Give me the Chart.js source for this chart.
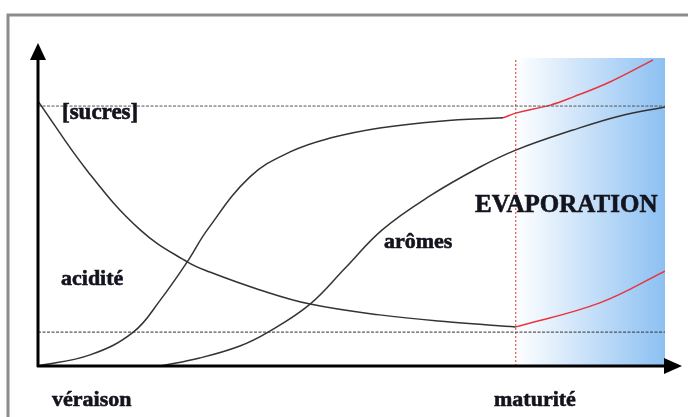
<!DOCTYPE html>
<html>
<head>
<meta charset="utf-8">
<script src="https://cdn.jsdelivr.net/npm/chart.js@4.4.1/dist/chart.umd.min.js"></script>
<style>
  body { margin: 0; background: #fff; }
  canvas { display: block; }
</style>
</head>
<body>
<canvas id="vinChart" width="688" height="417"></canvas>
<script>
// x: time from véraison (0) to end of evaporation (100), y: relative level (0..100)
const acidityX = [0, 8, 16.3, 23.8, 27.4, 35.4, 43.4, 54.5, 65.7, 76.2];
const acidityY = [86, 63, 44.2, 33.8, 30.5, 24.7, 20.1, 16.6, 14.3, 12.7];
const acidityEvapX = [76.2, 89.6, 100];
const acidityEvapY = [12.7, 20.5, 30.8];

const sugarX = [0, 8.3, 15.2, 19.5, 23.8, 27.0, 33.8, 40.2, 46.6, 54.5, 64.1, 74.2];
const sugarY = [0, 3.6, 11.0, 21.4, 33.8, 44.2, 61.4, 69.5, 74.0, 77.3, 79.5, 80.6];
const sugarEvapX = [74.2, 76.2, 81.7, 85.3, 91.2, 98.1];
const sugarEvapY = [80.6, 82.1, 84.7, 87.3, 92.2, 99.4];

const aromaX = [19.5, 25.8, 32.2, 36.7, 43.4, 49.0, 54.9, 62.5, 70.5, 76.2, 85.3, 92.8, 100];
const aromaY = [0, 2.6, 6.5, 11.0, 20.1, 31.8, 44.2, 55.2, 64.6, 70.1, 76.6, 81.2, 84.1];

const sugarLevel = 84.4;   // dotted line "[sucres]"
const acidLevel = 11.0;    // dotted line at maturity acidity
const maturityX = 76.2;    // "maturité"

const labels = ['[sucres]', 'acidité', 'arômes', 'EVAPORATION', 'véraison', 'maturité'];

const toPoints = (xs, ys) => xs.map((x, i) => ({ x: x, y: ys[i] }));

const curve = (data, color) => ({
    data: data,
    borderColor: color,
    borderWidth: 1.5,
    pointRadius: 0,
    tension: 0.4,
    fill: false,
});

const refLine = (data, color, dash) => ({
    data: data,
    borderColor: color,
    borderWidth: 1,
    borderDash: dash,
    pointRadius: 0,
    tension: 0,
    fill: false,
});

// blue evaporation zone, axes with arrows, frame and texts
const decorPlugin = {
    id: 'decor',
    beforeDatasetsDraw(chart) {
        const { ctx, chartArea, scales } = chart;
        const x0 = scales.x.getPixelForValue(maturityX);
        const x1 = chartArea.right;
        const g = ctx.createLinearGradient(x0, 0, x1, 0);
        g.addColorStop(0, 'rgba(255,255,255,1)');
        g.addColorStop(1, 'rgb(140,192,242)');
        ctx.save();
        ctx.fillStyle = g;
        ctx.fillRect(x0, chartArea.top, x1 - x0, chartArea.bottom - chartArea.top);
        ctx.restore();
    },
    afterDraw(chart) {
        const { ctx, scales } = chart;
        const ox = scales.x.getPixelForValue(0);
        const oy = scales.y.getPixelForValue(0);
        ctx.save();

        // frame
        ctx.strokeStyle = '#8c8c8c';
        ctx.lineWidth = 3;
        ctx.beginPath();
        ctx.moveTo(8, 417);
        ctx.lineTo(8, 15);
        ctx.lineTo(688, 15);
        ctx.stroke();

        // axes
        ctx.strokeStyle = '#000';
        ctx.fillStyle = '#000';
        ctx.lineWidth = 3;
        ctx.beginPath();
        ctx.moveTo(ox, oy + 1);
        ctx.lineTo(ox, 56);
        ctx.moveTo(ox - 1, oy);
        ctx.lineTo(668, oy);
        ctx.stroke();
        ctx.beginPath();
        ctx.moveTo(ox, 43);
        ctx.lineTo(ox - 8, 60);
        ctx.lineTo(ox + 8, 60);
        ctx.closePath();
        ctx.fill();
        ctx.beginPath();
        ctx.moveTo(682, oy);
        ctx.lineTo(664, oy - 8);
        ctx.lineTo(664, oy + 8);
        ctx.closePath();
        ctx.fill();

        // texts (slightly stroked to get the heavy look of the original)
        const text = (s, x, y, size) => {
            ctx.font = 'bold ' + size + 'px "Liberation Serif", "DejaVu Serif", serif';
            ctx.fillText(s, x, y);
            ctx.strokeText(s, x, y);
        };
        ctx.fillStyle = '#14141e';
        ctx.strokeStyle = '#14141e';
        ctx.lineWidth = 0.6;
        ctx.textBaseline = 'alphabetic';
        text(labels[0], 62, 119, 23);
        text(labels[1], 61, 285, 22);
        text(labels[2], 384, 248, 22);
        text(labels[3], 475, 212, 25);
        text(labels[4], 52, 406, 22);
        text(labels[5], 494, 406, 22);
        ctx.restore();
    }
};

new Chart(document.getElementById('vinChart'), {
    type: 'line',
    data: {
        datasets: [
            refLine([{ x: 0, y: sugarLevel }, { x: 100, y: sugarLevel }], '#555', [3, 1.5]),
            refLine([{ x: 0, y: acidLevel }, { x: 100, y: acidLevel }], '#333', [3, 1.5]),
            refLine([{ x: maturityX, y: 0 }, { x: maturityX, y: 100 }], '#e03030', [2, 2]),
            curve(toPoints(acidityX, acidityY), '#333'),
            curve(toPoints(acidityEvapX, acidityEvapY), '#e8343c'),
            curve(toPoints(sugarX, sugarY), '#333'),
            curve(toPoints(sugarEvapX, sugarEvapY), '#e8343c'),
            curve(toPoints(aromaX, aromaY), '#333'),
        ],
    },
    options: {
        responsive: false,
        animation: false,
        layout: { padding: { left: 38, right: 23, top: 58, bottom: 51 } },
        plugins: { legend: { display: false }, tooltip: { enabled: false } },
        scales: {
            x: { type: 'linear', min: 0, max: 100, display: false },
            y: { type: 'linear', min: 0, max: 100, display: false },
        },
    },
    plugins: [decorPlugin],
});
</script>
</body>
</html>
